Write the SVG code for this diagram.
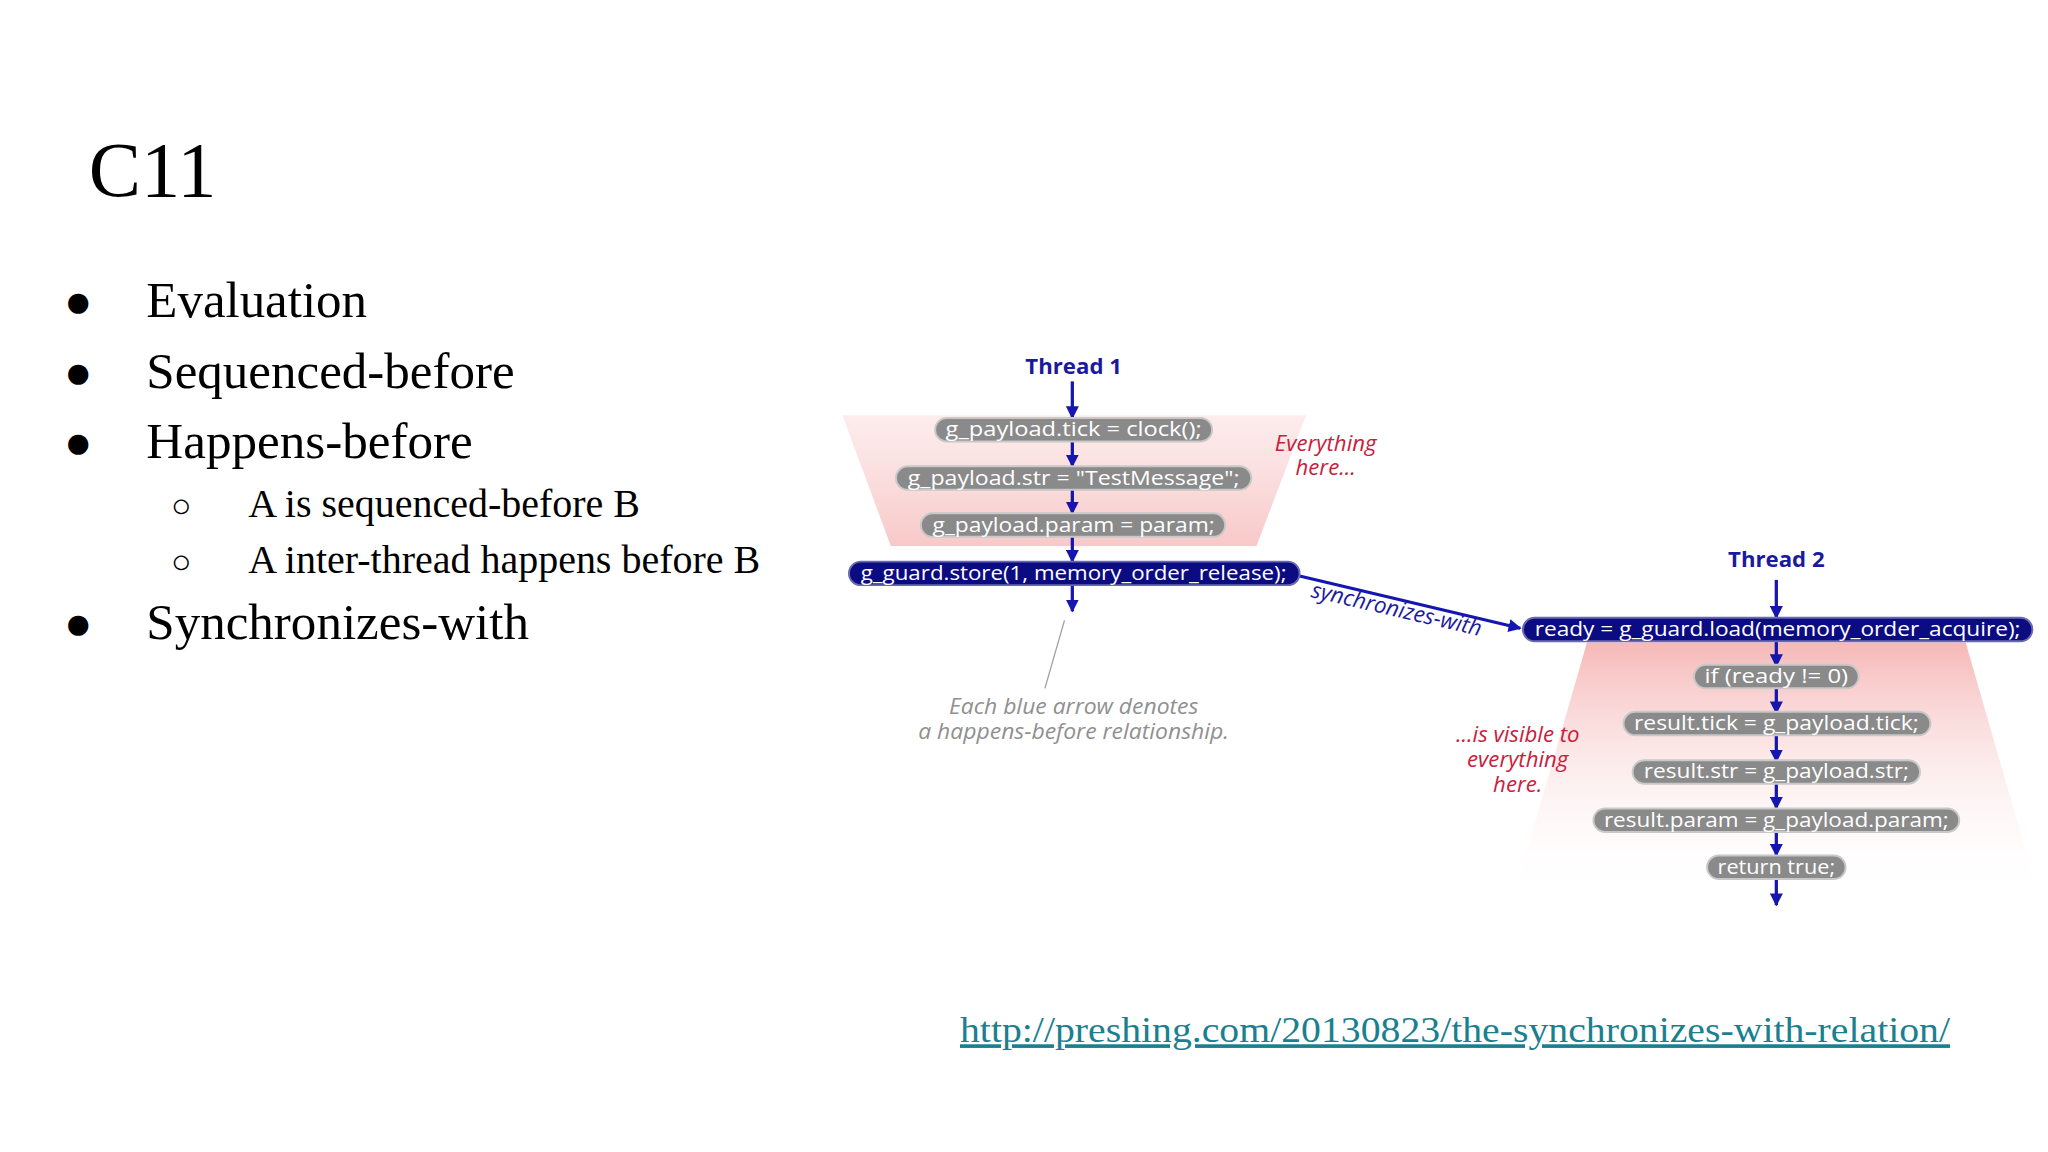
<svg xmlns="http://www.w3.org/2000/svg" width="2048" height="1152" viewBox="0 0 2048 1152">
<defs>
<style>
.ser{font-family:"Liberation Serif","Times New Roman",serif;fill:#000}
.pill{fill:#8a8a8a;stroke:#c8c8c8;stroke-width:1.5}
.dpill{fill:#0b0b82;stroke:#6a6ab0;stroke-width:1.5}
.pt{font-family:"Open Sans","DejaVu Sans",sans-serif;font-size:15px;fill:#fff;text-anchor:middle}
.red{font-family:"Open Sans",sans-serif;font-size:17px;font-style:italic;fill:#c8203c;text-anchor:middle}
.note{font-family:"Open Sans",sans-serif;font-size:17px;font-style:italic;fill:#909090;text-anchor:middle}
.th{font-family:"Open Sans",sans-serif;font-size:17px;font-weight:bold;fill:#1a1a9e;text-anchor:middle}
.ar{stroke:#1515b0;stroke-width:2.5;fill:none;marker-end:url(#ah)}
</style>
<marker id="ah" viewBox="0 0 10 10" refX="9" refY="5" markerWidth="4" markerHeight="4" orient="auto" markerUnits="strokeWidth"><path d="M0,0L10,5L0,10z" fill="#1515b0"/></marker>
<linearGradient id="g1" x1="0" y1="0" x2="0" y2="1"><stop offset="0" stop-color="#fbe0e0" stop-opacity="0.6"/><stop offset="1" stop-color="#f8c8c8"/></linearGradient>
<linearGradient id="g2" x1="0" y1="0" x2="0" y2="1"><stop offset="0" stop-color="#f6b8b8"/><stop offset="1" stop-color="#ffffff" stop-opacity="0"/></linearGradient>
</defs>
<rect width="2048" height="1152" fill="#fff"/>
<g transform="scale(1.30612)">
<g id="slide-text">
<text class="ser" x="68" y="150" font-size="60">C11</text>
<g font-size="39">
<text class="ser" x="49" y="243" font-size="36">●</text><text class="ser" x="112" y="243" textLength="169" lengthAdjust="spacingAndGlyphs">Evaluation</text>
<text class="ser" x="49" y="297" font-size="36">●</text><text class="ser" x="112" y="297" textLength="282" lengthAdjust="spacingAndGlyphs">Sequenced-before</text>
<text class="ser" x="49" y="351" font-size="36">●</text><text class="ser" x="112" y="351" textLength="250" lengthAdjust="spacingAndGlyphs">Happens-before</text>
<text class="ser" x="131" y="396" font-size="26">○</text><text class="ser" x="190" y="396" font-size="30" textLength="300" lengthAdjust="spacingAndGlyphs">A is sequenced-before B</text>
<text class="ser" x="131" y="439" font-size="26">○</text><text class="ser" x="190" y="439" font-size="30" textLength="392" lengthAdjust="spacingAndGlyphs">A inter-thread happens before B</text>
<text class="ser" x="49" y="489" font-size="36">●</text><text class="ser" x="112" y="489" textLength="293" lengthAdjust="spacingAndGlyphs">Synchronizes-with</text>
</g>
<text x="735" y="798" font-family="Liberation Serif,serif" font-size="28" fill="#1a8090" text-decoration="underline" textLength="758" lengthAdjust="spacingAndGlyphs">http://preshing.com/20130823/the-synchronizes-with-relation/</text>
</g>
<g id="backgrounds">
<path d="M645,318 L1000,318 L962,418 L682,418 Z" fill="url(#g1)"/>
<path d="M1215,492 L1505,492 L1562,690 L1158,690 Z" fill="url(#g2)"/>
</g>
<g id="connectors">
<line class="ar" x1="821" y1="292" x2="821" y2="320"/>
<line class="ar" x1="821" y1="338" x2="821" y2="357"/>
<line class="ar" x1="821" y1="375" x2="821" y2="393"/>
<line class="ar" x1="821" y1="411" x2="821" y2="430"/>
<line class="ar" x1="821" y1="448" x2="821" y2="468"/>
<line class="ar" x1="995" y1="441" x2="1164" y2="481"/>
<line class="ar" x1="1360" y1="444" x2="1360" y2="473"/>
<line class="ar" x1="1360" y1="491" x2="1360" y2="510"/>
<line class="ar" x1="1360" y1="527" x2="1360" y2="546"/>
<line class="ar" x1="1360" y1="563" x2="1360" y2="583"/>
<line class="ar" x1="1360" y1="600" x2="1360" y2="619"/>
<line class="ar" x1="1360" y1="637" x2="1360" y2="655"/>
<line class="ar" x1="1360" y1="673" x2="1360" y2="693"/>
<line x1="815" y1="475" x2="800" y2="527" stroke="#a0a0a0" stroke-width="1"/>
</g>
<g id="thread1">
<text class="th" x="822" y="286">Thread 1</text>
<rect class="pill" x="716" y="320" width="212" height="18" rx="9"/><text class="pt" x="822" y="334" textLength="196" lengthAdjust="spacingAndGlyphs">g_payload.tick = clock();</text>
<rect class="pill" x="686" y="357" width="272" height="18" rx="9"/><text class="pt" x="822" y="371" textLength="254" lengthAdjust="spacingAndGlyphs">g_payload.str = "TestMessage";</text>
<rect class="pill" x="705" y="393" width="233" height="18" rx="9"/><text class="pt" x="822" y="407" textLength="216" lengthAdjust="spacingAndGlyphs">g_payload.param = param;</text>
<rect class="dpill" x="650" y="430" width="345" height="18" rx="9"/><text class="pt" x="822" y="444" textLength="326" lengthAdjust="spacingAndGlyphs">g_guard.store(1, memory_order_release);</text>
</g>
<g id="labels">
<text class="red" x="1015" y="345">Everything</text><text class="red" x="1015" y="364">here...</text>
<text class="note" x="822" y="547" textLength="191" lengthAdjust="spacingAndGlyphs">Each blue arrow denotes</text>
<text class="note" x="822" y="566" textLength="238" lengthAdjust="spacingAndGlyphs">a happens-before relationship.</text>
<text transform="translate(1068,472) rotate(13)" font-family="Open Sans,sans-serif" font-size="17" font-style="italic" fill="#1a1a9e" text-anchor="middle">synchronizes-with</text>
<text class="red" x="1162" y="568">...is visible to</text><text class="red" x="1162" y="587">everything</text><text class="red" x="1162" y="606">here.</text>
</g>
<g id="thread2">
<text class="th" x="1360" y="434">Thread 2</text>
<rect class="dpill" x="1166" y="473" width="390" height="18" rx="9"/><text class="pt" x="1361" y="487" textLength="372" lengthAdjust="spacingAndGlyphs">ready = g_guard.load(memory_order_acquire);</text>
<rect class="pill" x="1297" y="509" width="126" height="18" rx="9"/><text class="pt" x="1360" y="523" textLength="110" lengthAdjust="spacingAndGlyphs">if (ready != 0)</text>
<rect class="pill" x="1243" y="545" width="235" height="18" rx="9"/><text class="pt" x="1360" y="559" textLength="218" lengthAdjust="spacingAndGlyphs">result.tick = g_payload.tick;</text>
<rect class="pill" x="1250" y="582" width="220" height="18" rx="9"/><text class="pt" x="1360" y="596" textLength="203" lengthAdjust="spacingAndGlyphs">result.str = g_payload.str;</text>
<rect class="pill" x="1220" y="619" width="280" height="18" rx="9"/><text class="pt" x="1360" y="633" textLength="264" lengthAdjust="spacingAndGlyphs">result.param = g_payload.param;</text>
<rect class="pill" x="1307" y="655" width="106" height="18" rx="9"/><text class="pt" x="1360" y="669" textLength="90" lengthAdjust="spacingAndGlyphs">return true;</text>
</g>
</g>
</svg>
